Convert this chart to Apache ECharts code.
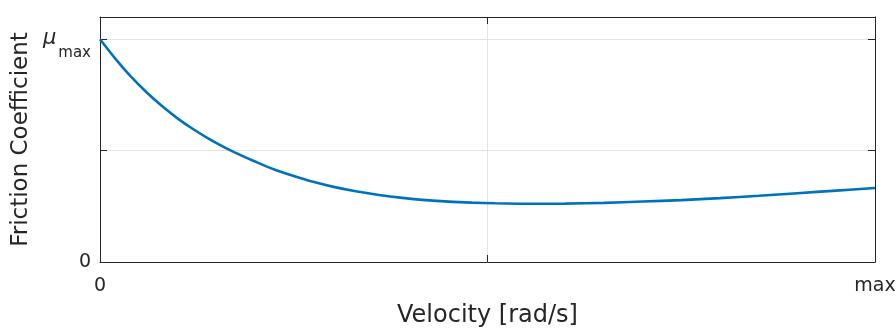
<!DOCTYPE html>
<html>
<head>
<meta charset="utf-8">
<script src="https://cdn.jsdelivr.net/npm/echarts@6/dist/echarts.min.js"></script>
<style>
  html, body { margin: 0; padding: 0; background: #fff; }
  #chart { width: 896px; height: 329px; }
</style>
</head>
<body>
<div id="chart"></div>
<script>
// Normalised velocity (0 .. max) and friction coefficient (0 .. mu_max)
const velocity = [0, 0.02, 0.04, 0.06, 0.08, 0.10, 0.12, 0.14, 0.16, 0.18, 0.20, 0.225, 0.25, 0.275, 0.30, 0.33, 0.36, 0.39, 0.42, 0.45, 0.48, 0.51, 0.54, 0.57, 0.60, 0.65, 0.70, 0.75, 0.80, 0.85, 0.90, 0.95, 1.0];
const friction = [1.0, 0.912, 0.832, 0.762, 0.700, 0.645, 0.597, 0.554, 0.516, 0.482, 0.451, 0.415, 0.386, 0.360, 0.3385, 0.3175, 0.301, 0.288, 0.278, 0.271, 0.2665, 0.2635, 0.2618, 0.2612, 0.262, 0.2655, 0.2715, 0.278, 0.287, 0.2975, 0.309, 0.3205, 0.332];

const xTickLabels = { 0: '0', 1: 'max' };
const yTickLabels = { 0: '0', 1: '{mu|μ}{sub|max}' };

const FONT = 'DejaVu Sans';
const INK = '#262626';

const points = velocity.map((v, i) => [v, friction[i]]);

const chart = echarts.init(document.getElementById('chart'), null, { renderer: 'canvas' });

const boxLine = { show: true, onZero: false, lineStyle: { color: INK, width: 1 } };
const innerTick = { show: true, inside: true, length: 7, lineStyle: { color: INK, width: 1 } };

chart.setOption({
  animation: false,
  backgroundColor: '#fff',
  grid: { left: 100, right: 21, top: 17, bottom: 67, containLabel: false, outerBoundsMode: 'none' },
  xAxis: [
    {
      type: 'value', position: 'bottom', min: 0, max: 1, interval: 0.5,
      axisLine: boxLine, axisTick: innerTick,
      splitLine: { show: true, lineStyle: { color: '#e3e3e3', width: 1 } },
      axisLabel: {
        margin: 15, color: INK, fontFamily: FONT, fontSize: 19,
        formatter: v => xTickLabels[v] !== undefined ? xTickLabels[v] : ''
      },
      name: 'Velocity [rad/s]', nameLocation: 'middle', nameGap: 42,
      nameTextStyle: { color: INK, fontFamily: FONT, fontSize: 24 }
    },
    {
      type: 'value', position: 'top', min: 0, max: 1, interval: 0.5,
      axisLine: boxLine, axisTick: innerTick,
      splitLine: { show: false }, axisLabel: { show: false }
    }
  ],
  yAxis: [
    {
      type: 'value', position: 'left', min: 0, max: 1.1, interval: 0.5,
      axisLine: boxLine, axisTick: innerTick,
      splitLine: { show: true, lineStyle: { color: '#e3e3e3', width: 1 } },
      axisLabel: {
        margin: 9, color: INK, fontFamily: FONT, fontSize: 19,
        formatter: v => yTickLabels[v] !== undefined ? yTickLabels[v] : '',
        rich: {
          mu: { fontFamily: FONT, fontStyle: 'italic', fontSize: 21, color: INK, padding: [5, 2, 7, 0] },
          sub: { fontFamily: FONT, fontSize: 15, color: INK, padding: [28, 0, 0, 0] }
        }
      },
      name: 'Friction Coefficient', nameLocation: 'middle', nameGap: 60,
      nameTextStyle: { color: INK, fontFamily: FONT, fontSize: 23 }
    },
    {
      type: 'value', position: 'right', min: 0, max: 1.1, interval: 0.5,
      axisLine: boxLine, axisTick: innerTick,
      splitLine: { show: false }, axisLabel: { show: false }
    }
  ],
  series: [
    {
      type: 'line', xAxisIndex: 0, yAxisIndex: 0,
      data: points, showSymbol: false, smooth: 0.3,
      lineStyle: { color: '#0072BD', width: 2.6 }, z: 3
    }
  ]
});
</script>
</body>
</html>
